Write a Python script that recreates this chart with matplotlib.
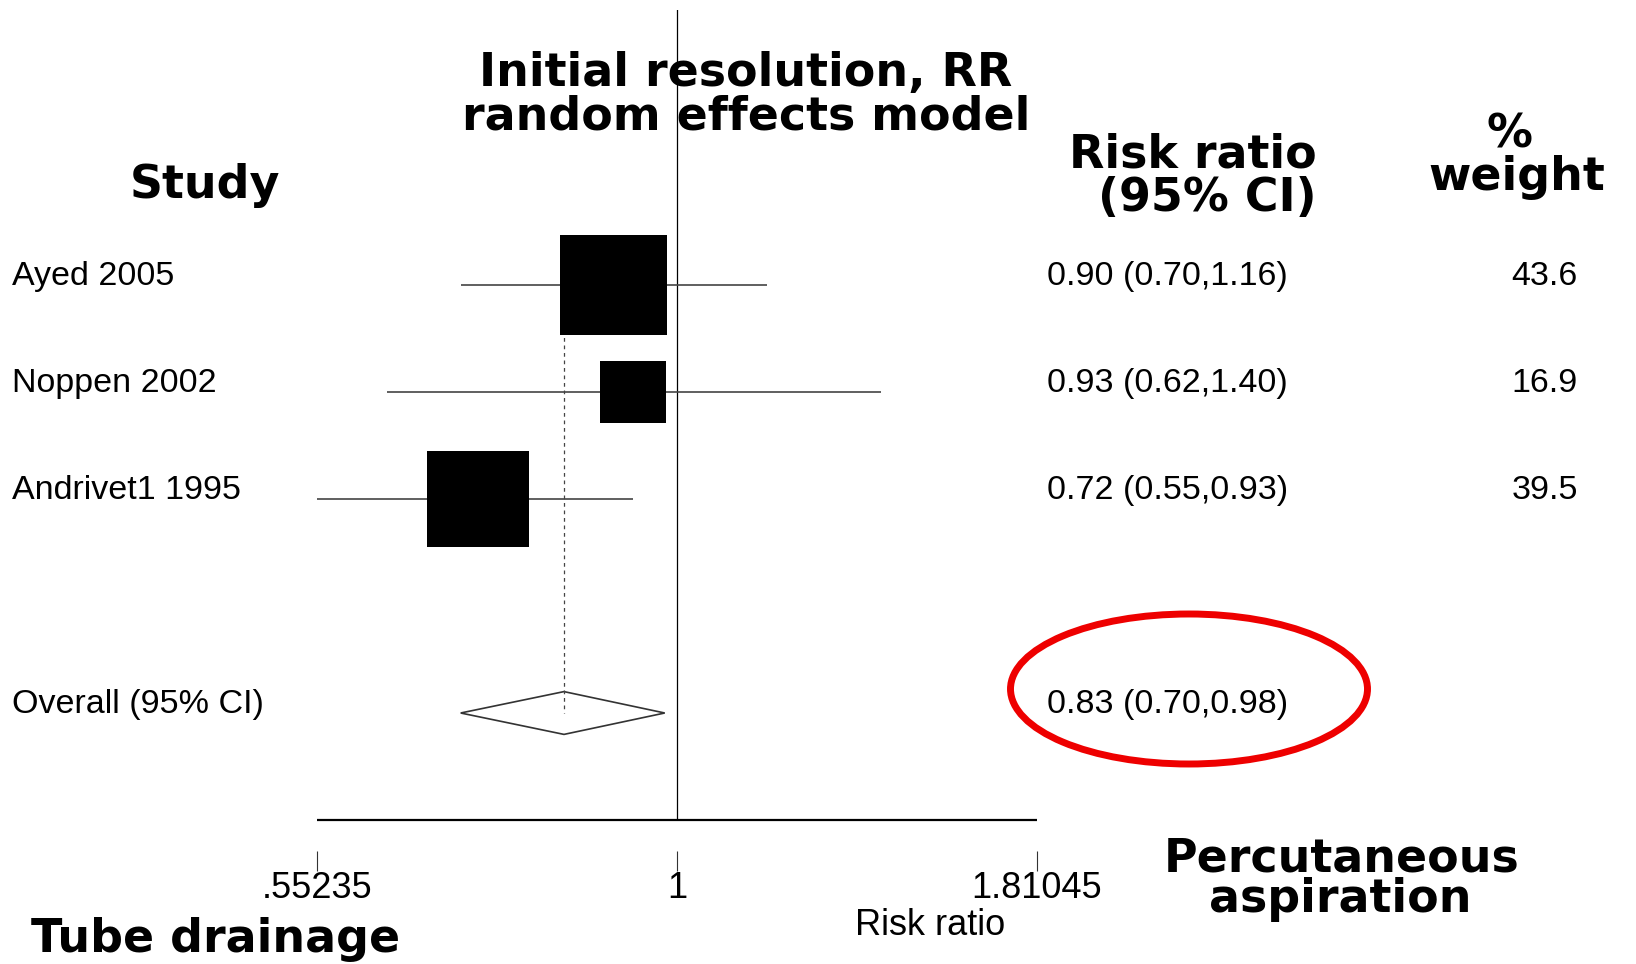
import matplotlib
matplotlib.use("Agg")
import matplotlib.pyplot as plt
from matplotlib import transforms
from matplotlib.patches import Polygon, Ellipse
from matplotlib.path import Path
from matplotlib.ticker import FixedLocator, FixedFormatter, NullLocator

# ---- data ----
studies = ["Ayed 2005", "Noppen 2002", "Andrivet1 1995"]
rr = [0.90, 0.93, 0.72]
rr_lo = [0.70, 0.62, 0.55]
rr_hi = [1.16, 1.40, 0.93]
weights = [43.6, 16.9, 39.5]
rows = [1, 2, 3]

overall_label = "Overall (95% CI)"
overall_rr = 0.83
overall_lo = 0.70
overall_hi = 0.98
overall_row = 5

tick_vals = [0.55235, 1, 1.81045]
tick_labels = [".55235", "1", "1.81045"]

W, H = 1636, 964
BODY = "Liberation Sans"
HEAD = "DejaVu Sans"


def fx(x):
    return x / W


def fy(y):
    return 1 - y / H


fig = plt.figure(figsize=(W / 100, H / 100), dpi=100)
fig.patch.set_facecolor("white")

# axes: x from .55235 (px 317) to 1.81045 (px 1037), rows 107 px apart
ax = fig.add_axes([fx(317), fy(820), (1037 - 317) / W, (820 - 10) / H])
ax.set_xscale("log")
ax.set_xlim(tick_vals[0], tick_vals[-1])
ax.set_ylim(6, 1 - (285 - 10) / 107)
ax.patch.set_alpha(0)

for s in ["top", "right", "left"]:
    ax.spines[s].set_visible(False)
ax.spines["bottom"].set_position(("outward", 22))
ax.spines["bottom"].set_visible(False)
ax.set_yticks([])

ax.xaxis.set_major_locator(FixedLocator(tick_vals))
ax.xaxis.set_major_formatter(FixedFormatter(tick_labels))
ax.xaxis.set_minor_locator(NullLocator())
ax.tick_params(axis="x", direction="out", length=14.4, width=0.8,
               color="#333333", pad=0.5, labelsize=26)
for lab in ax.get_xticklabels():
    lab.set_fontfamily(BODY)

# axis line and line of no effect
ax.hlines(6, tick_vals[0], tick_vals[-1], color="black", lw=1.6, clip_on=False)
ax.axvline(1, color="black", lw=0.9)

# confidence intervals and boxes
ax.hlines(rows, rr_lo, rr_hi, color="#444444", lw=1.2, zorder=2)
box = Path([(-0.535, -0.5), (0.535, -0.5), (0.535, 0.5), (-0.535, 0.5), (-0.535, -0.5)],
           [Path.MOVETO, Path.LINETO, Path.LINETO, Path.LINETO, Path.CLOSEPOLY])
ax.scatter(rr, rows, s=[136 * w for w in weights], marker=box,
           color="black", linewidths=0, zorder=3)

# overall diamond and dashed line
ax.add_patch(Polygon([(overall_lo, overall_row), (overall_rr, overall_row - 0.2),
                      (overall_hi, overall_row), (overall_rr, overall_row + 0.2)],
                     closed=True, facecolor="white", edgecolor="#333333", lw=1.2, zorder=2))
ax.vlines(overall_rr, rows[0], overall_row, color="#444444", lw=0.9,
          linestyles=(0, (3, 3)), zorder=2.5)

# row texts
tr = transforms.blended_transform_factory(fig.transFigure, ax.transData)
for name, r, l, h, w, y in zip(studies, rr, rr_lo, rr_hi, weights, rows):
    ax.text(fx(12), y, name, transform=tr, fontsize=24.5, family=BODY, va="baseline")
    ax.text(fx(1047), y, f"{r:.2f} ({l:.2f},{h:.2f})", transform=tr,
            fontsize=24.5, family=BODY, va="baseline")
    ax.text(fx(1578), y, f"{w:.1f}", transform=tr, fontsize=24.5, family=BODY,
            va="baseline", ha="right")
ax.text(fx(12), overall_row, overall_label, transform=tr, fontsize=24.5,
        family=BODY, va="baseline")
ax.text(fx(1047), overall_row, f"{overall_rr:.2f} ({overall_lo:.2f},{overall_hi:.2f})",
        transform=tr, fontsize=24.5, family=BODY, va="baseline")

# headers
hk = dict(fontsize=33, family=HEAD, fontweight="bold", va="baseline")
fig.text(fx(746), fy(86), "Initial resolution, RR", ha="center", **hk)
fig.text(fx(746), fy(129), "random effects model", ha="center", **hk)
fig.text(fx(205), fy(198), "Study", ha="center", **hk)
fig.text(fx(1317), fy(167), "Risk ratio", ha="right", **hk)
fig.text(fx(1317), fy(211), "(95% CI)", ha="right", **hk)
fig.text(fx(1509), fy(147), "%", ha="center", **hk)
fig.text(fx(1517), fy(190), "weight", ha="center", **hk)
fig.text(fx(1342), fy(871), "Percutaneous", ha="center", **hk)
fig.text(fx(1340), fy(912), "aspiration", ha="center", **hk)
fig.text(fx(31), fy(952), "Tube drainage", ha="left", **hk)
fig.text(fx(930), fy(935), "Risk ratio", ha="center", va="baseline",
         fontsize=26, family=BODY)

# red highlight around the overall estimate
fig.patches.append(Ellipse((fx(1189), fy(689)), 357 / W, 150 / H,
                           transform=fig.transFigure, fill=False,
                           edgecolor="#ee0000", lw=5))

fig.savefig("out.png", dpi=100)
